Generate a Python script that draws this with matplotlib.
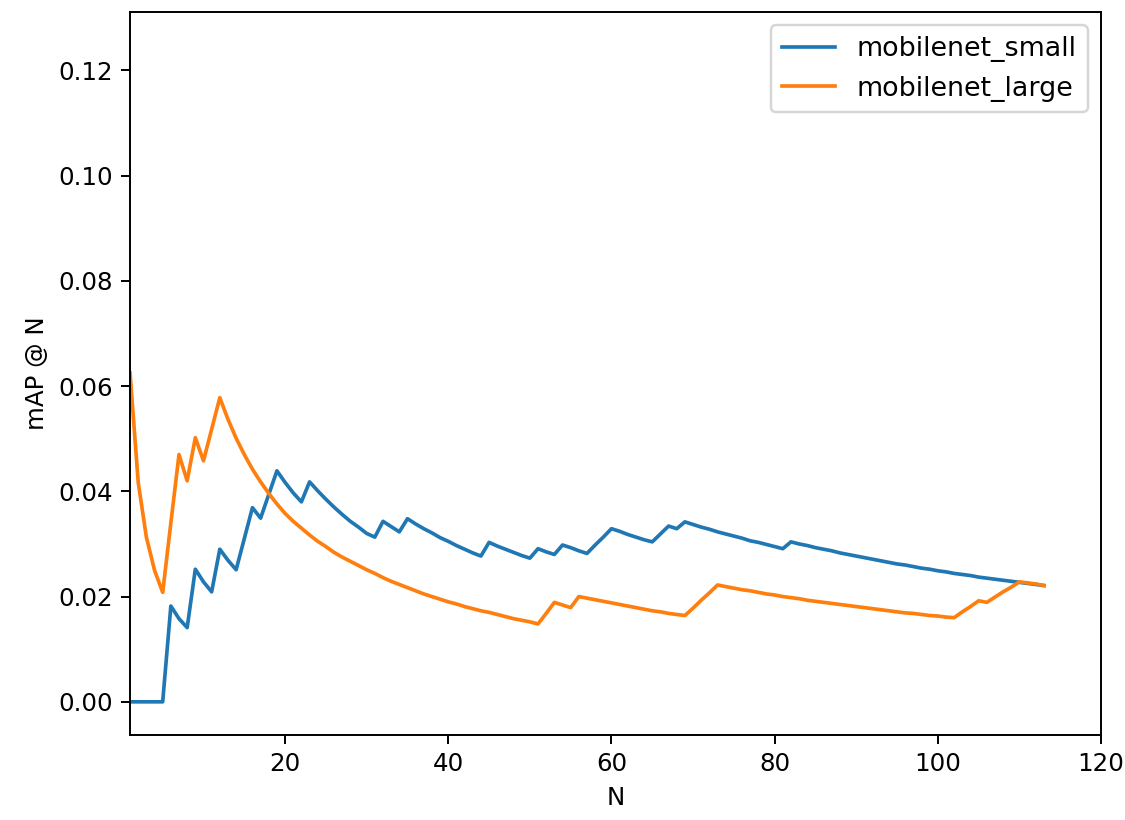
import matplotlib
matplotlib.use("Agg")
import matplotlib.pyplot as plt

# mAP@N for N = 1..113
N = list(range(1, 114))

mobilenet_small = [
    0.0, 0.0, 0.0, 0.0, 0.0, 0.0182, 0.0158, 0.0141, 0.0252, 0.0228,
    0.0209, 0.0290, 0.0269, 0.0251, 0.0310, 0.0369, 0.0349, 0.0394, 0.0439, 0.0417,
    0.0397, 0.0380, 0.0418, 0.0401, 0.0385, 0.0370, 0.0356, 0.0343, 0.0332, 0.0320,
    0.0313, 0.0343, 0.0333, 0.0323, 0.0348, 0.0338, 0.0329, 0.0321, 0.0312, 0.0305,
    0.0297, 0.0290, 0.0283, 0.0277, 0.0303, 0.0296, 0.0290, 0.0284, 0.0278, 0.0273,
    0.0291, 0.0285, 0.0280, 0.0298, 0.0293, 0.0287, 0.0282, 0.0298, 0.0313, 0.0329,
    0.0324, 0.0318, 0.0313, 0.0308, 0.0304, 0.0319, 0.0334, 0.0329, 0.0342, 0.0337,
    0.0332, 0.0328, 0.0323, 0.0319, 0.0315, 0.0311, 0.0306, 0.0303, 0.0299, 0.0295,
    0.0291, 0.0304, 0.0300, 0.0297, 0.0293, 0.0290, 0.0287, 0.0283, 0.0280, 0.0277,
    0.0274, 0.0271, 0.0268, 0.0265, 0.0262, 0.0260, 0.0257, 0.0254, 0.0252, 0.0249,
    0.0247, 0.0244, 0.0242, 0.0240, 0.0237, 0.0235, 0.0233, 0.0231, 0.0229, 0.0227,
    0.0225, 0.0223, 0.0221,
]

mobilenet_large = [
    0.0625, 0.0417, 0.0313, 0.0250, 0.0208, 0.0340, 0.0470, 0.0420, 0.0502, 0.0458,
    0.0518, 0.0578, 0.0537, 0.0501, 0.0470, 0.0442, 0.0418, 0.0396, 0.0376, 0.0358,
    0.0343, 0.0330, 0.0317, 0.0305, 0.0295, 0.0284, 0.0275, 0.0267, 0.0259, 0.0251,
    0.0244, 0.0236, 0.0229, 0.0223, 0.0217, 0.0211, 0.0205, 0.0200, 0.0195, 0.0190,
    0.0186, 0.0181, 0.0177, 0.0173, 0.0170, 0.0166, 0.0162, 0.0158, 0.0155, 0.0152,
    0.0148, 0.0168, 0.0189, 0.0184, 0.0179, 0.0200, 0.0197, 0.0194, 0.0191, 0.0188,
    0.0185, 0.0182, 0.0179, 0.0176, 0.0173, 0.0171, 0.0168, 0.0166, 0.0164, 0.0178,
    0.0193, 0.0207, 0.0222, 0.0219, 0.0216, 0.0213, 0.0211, 0.0208, 0.0205, 0.0203,
    0.0200, 0.0198, 0.0196, 0.0193, 0.0191, 0.0189, 0.0187, 0.0185, 0.0183, 0.0181,
    0.0179, 0.0177, 0.0175, 0.0173, 0.0171, 0.0169, 0.0168, 0.0166, 0.0164, 0.0163,
    0.0161, 0.0160, 0.0171, 0.0181, 0.0192, 0.0189, 0.0199, 0.0209, 0.0218, 0.0228,
    0.0226, 0.0224, 0.0221,
]

dpi = 176
fig = plt.figure(figsize=(1125 / dpi, 820 / dpi), dpi=dpi)
ax = fig.add_axes([0.1156, 0.1037, 0.8631, 0.8817])

ax.plot(N, mobilenet_small, label="mobilenet_small")
ax.plot(N, mobilenet_large, label="mobilenet_large")

ax.set_xlim(1, 120)
ax.set_ylim(-0.0063, 0.1311)
ax.set_xlabel("N")
ax.set_ylabel("mAP @ N")
ax.legend(loc="upper right", fontsize=11)

fig.savefig("out.png", dpi=dpi)
